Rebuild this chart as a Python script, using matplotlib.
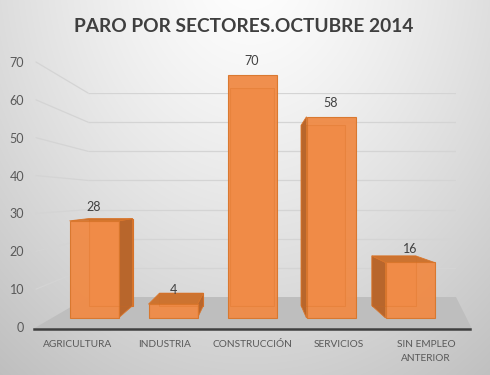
import numpy as np
import matplotlib
matplotlib.use("Agg")
import matplotlib.pyplot as plt
from matplotlib.patches import Polygon, ConnectionPatch
from matplotlib import font_manager

categories = ["AGRICULTURA", "INDUSTRIA", "CONSTRUCCIÓN", "SERVICIOS", "SIN EMPLEO\nANTERIOR"]
values = [28, 4, 70, 58, 16]
yticks = [0, 10, 20, 30, 40, 50, 60, 70]
title = "PARO POR SECTORES.OCTUBRE 2014"

names = {f.name for f in font_manager.fontManager.ttflist}
fam = [f for f in ["Lato", "DejaVu Sans"] if f in names]
plt.rcParams['font.family'] = fam

W, H = 490, 375
fig = plt.figure(figsize=(W / 100, H / 100), dpi=100)

def fx(px):
    return px / W

def fy(py):
    return 1 - py / H

# ---- background gradient
bg = fig.add_axes([0, 0, 1, 1], zorder=-5)
yy, xx = np.mgrid[0:H, 0:W]
d = np.sqrt(((xx - 250) / 330.0) ** 2 + ((yy + 40) / 420.0) ** 2)
shade = 1 - 0.19 * np.clip(d, 0, 1.4) ** 1.3
bg.imshow(np.dstack([shade] * 3), extent=[0, W, H, 0], aspect='auto')
bg.set_axis_off()

# ---- layout constants
cx0, step = 94.0, 79.0      # px of first bar centre, spacing
base, sc = 318.0, 3.47      # px of bar base, px per unit

def dx(px):
    return (px - cx0) / step

def dy(py):
    return (base - py) / sc

# floor axes (same mapping as main)
axf = fig.add_axes([0, 0, 1, 1], zorder=-4)
axf.set_xlim((0 - cx0) / step, (W - cx0) / step)
axf.set_ylim((base - H) / sc, base / sc)
axf.set_axis_off()
axf.patch.set_visible(False)
floor = Polygon([(dx(33), dy(329)), (dx(88), dy(297)), (dx(456), dy(297)), (dx(472), dy(329))],
                closed=True, facecolor='#bebebe', edgecolor='none')
axf.add_patch(floor)

# back wall gridlines
axb = fig.add_axes([fx(88), fy(297), fx(456) - fx(88), (297 - 93) / H], zorder=-3)
axb.set_xlim(0, 1)
axb.set_ylim(0, 70)
axb.set_axis_off()
axb.patch.set_visible(False)
axb.hlines(yticks[1:], 0, 1, color='#d4d4d4', lw=0.9)

# tick labels axes (front plane scale)
axl = fig.add_axes([fx(27), fy(327), fx(36) - fx(27), (327 - 62) / H], zorder=-3)
axl.set_ylim(0, 70)
axl.set_yticks(yticks)
axl.tick_params(axis='y', length=0, pad=2, labelsize=9, labelcolor='#595959')
axl.xaxis.set_visible(False)
for s in axl.spines.values():
    s.set_visible(False)
axl.patch.set_visible(False)

for v in yticks[1:]:
    con = ConnectionPatch(xyA=(1, v), coordsA=axl.get_yaxis_transform(),
                          xyB=(0, v), coordsB=axb.get_yaxis_transform(),
                          color='#d4d4d4', lw=0.9, clip_on=False)
    axb.add_artist(con)

# category axis (front line)
axc = fig.add_axes([fx(34.5), fy(329), fx(469.5) - fx(34.5), 0.001], zorder=-2)
axc.set_xlim(-0.5, 4.5)
axc.set_xticks(range(len(categories)))
axc.set_xticklabels(categories, fontsize=7.3, color='#595959', linespacing=1.65)
axc.tick_params(axis='x', length=0, pad=8)
axc.yaxis.set_visible(False)
for s in ['top', 'left', 'right']:
    axc.spines[s].set_visible(False)
axc.spines['bottom'].set_color('#3f3f3f')
axc.spines['bottom'].set_linewidth(1.8)
axc.patch.set_visible(False)

# ---- main axes: 3D-looking bars
ax = fig.add_axes([0, 0, 1, 1], zorder=1)
ax.set_xlim((0 - cx0) / step, (W - cx0) / step)
ax.set_ylim((base - H) / sc, base / sc)
ax.set_axis_off()
ax.patch.set_visible(False)

vx, vy, k = dx(254), dy(199), 0.896
w = 49.0 / step

def P(x, y):
    return (vx + k * (x - vx), vy + k * (y - vy))

front_c = '#f08b47'
side_c = '#b8662c'
top_c = '#cc7330'
edge_c = '#d9762c'

bars = ax.bar(range(len(values)), values, width=w, color=front_c, edgecolor=edge_c,
              linewidth=0.8, zorder=5, alpha=0.96)

for i, v in enumerate(values):
    xl, xr = i - w / 2, i + w / 2
    back = [P(xl, 0), P(xr, 0), P(xr, v), P(xl, v)]
    ax.add_patch(Polygon(back, closed=True, facecolor=front_c, edgecolor=edge_c, lw=0.8, zorder=2))
    if xr < vx:
        ax.add_patch(Polygon([(xr, 0), (xr, v), P(xr, v), P(xr, 0)], closed=True,
                             facecolor=side_c, edgecolor=edge_c, lw=0.6, zorder=3))
    elif xl > vx:
        ax.add_patch(Polygon([(xl, 0), (xl, v), P(xl, v), P(xl, 0)], closed=True,
                             facecolor=side_c, edgecolor=edge_c, lw=0.6, zorder=3))
    if v < vy:
        ax.add_patch(Polygon([(xl, v), (xr, v), P(xr, v), P(xl, v)], closed=True,
                             facecolor=top_c, edgecolor=edge_c, lw=0.6, zorder=4))
    ax.add_patch(Polygon(back, closed=True, facecolor='none', edgecolor='#d06a22',
                         lw=0.7, alpha=0.22, zorder=6))
    ax.annotate(str(v), (i, v), xytext=(0, 10), textcoords='offset points',
                ha='center', va='center', fontsize=9, color='#404040', zorder=7)

fig.text(fx(244), fy(27), title, ha='center', va='center', fontsize=13.8,
         fontweight='bold', color='#3f3f3f')

fig.savefig('out.png', dpi=100)
